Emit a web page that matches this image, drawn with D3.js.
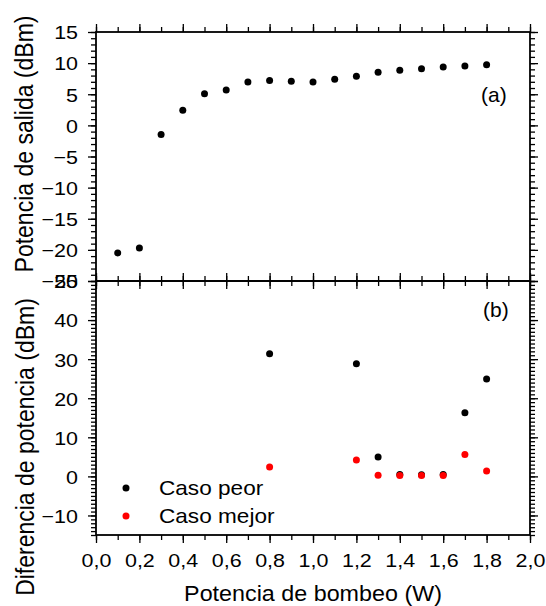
<!DOCTYPE html>
<html><head><meta charset="utf-8">
<script src="https://cdn.jsdelivr.net/npm/d3@7"></script>
<style>
body{margin:0;background:#fff}
svg{display:block}
text{font-family:"Liberation Sans",Arial,sans-serif;fill:#000}
</style>
</head><body>
<svg id="c" width="546" height="606"></svg>
<script>
// ---- data ----
const pumpA = [0.1,0.2,0.3,0.4,0.5,0.6,0.7,0.8,0.9,1.0,1.1,1.2,1.3,1.4,1.5,1.6,1.7,1.8];
const outPower = [-20.5,-19.7,-1.45,2.44,5.1,5.7,6.97,7.19,7.08,6.97,7.4,7.88,8.52,8.84,9.11,9.37,9.53,9.75];
const pumpB = [0.8,1.2,1.3,1.4,1.5,1.6,1.7,1.8];
const worstCase = [31.4,28.8,4.95,0.5,0.4,0.5,16.3,24.9];
const bestCase = [2.4,4.2,0.26,0.2,0.2,0.2,5.6,1.4];
const xTicks = [0,0.2,0.4,0.6,0.8,1.0,1.2,1.4,1.6,1.8,2.0];
const yTicksA = [15,10,5,0,-5,-10,-15,-20,-25];
const yTicksB = [50,40,30,20,10,0,-10];
const legendLabels = ["Caso peor","Caso mejor"];
const legendColors = ["#000000","#ff0000"];
const panelLabels = ["(a)","(b)"];
const xTitle = "Potencia de bombeo (W)";
const yTitleA = "Potencia de salida (dBm)";
const yTitleB = "Diferencia de potencia (dBm)";

// ---- layout ----
const L=96, R=530, T=32, M=281, B=535;
const SX = 1.13; // horizontal stretch of glyphs
const svg = d3.select("#c");

const x = d3.scaleLinear().domain([0,2]).range([L,R]);
const yA = d3.scaleLinear().domain([-25,15]).range([M,T]);
const yB = d3.scaleLinear().domain([-15,50]).range([B,M]);

const fmt = d => d3.format(".1f")(d).replace(".", ",");
const xMinor = d3.range(0,2.001,0.1).map(v=>+v.toFixed(1));
const yMinorA = d3.range(-25,15.001,1);
const yMinorB = d3.range(-15,50.001,1);

const MAJ=8, MIN=5;

function ticks(axisGen, g) {
  g.call(axisGen);
  g.select(".domain").remove();
  g.selectAll("line").attr("stroke","#000").attr("stroke-width",1.3);
}

function sideAxes(maker, scale, minor, major, transform, labels, fmtFn){
  const gmin = svg.append("g").attr("transform",transform);
  ticks(maker(scale).tickValues(minor).tickSize(MIN).tickFormat(""), gmin);
  const gmaj = svg.append("g").attr("transform",transform);
  ticks(maker(scale).tickValues(major).tickSize(MAJ).tickFormat(labels?fmtFn:""), gmaj);
  return gmaj;
}

// top panel
const gLA = sideAxes(d3.axisLeft, yA, yMinorA, yTicksA, `translate(${L},0)`, true, d=>d3.format("d")(d));
sideAxes(d3.axisRight, yA, yMinorA, yTicksA, `translate(${R},0)`, false);
sideAxes(d3.axisTop, x, xMinor, xTicks, `translate(0,${T})`, false);
sideAxes(d3.axisBottom, x, xMinor, xTicks, `translate(0,${M})`, false);
// bottom panel
const gLB = sideAxes(d3.axisLeft, yB, yMinorB, yTicksB, `translate(${L},0)`, true, d=>d3.format("d")(d));
sideAxes(d3.axisRight, yB, yMinorB, yTicksB, `translate(${R},0)`, false);
sideAxes(d3.axisTop, x, xMinor, xTicks, `translate(0,${M})`, false);
const gX = sideAxes(d3.axisBottom, x, xMinor, xTicks, `translate(0,${B})`, true, fmt);

// style tick labels
[gLA, gLB].forEach(g=>{
  g.selectAll("text").attr("font-size",19).attr("font-family",null)
    .attr("x", -18/SX).attr("dy","0.36em")
    .attr("transform",`scale(${SX},1)`);
});
gX.selectAll("text").attr("font-size",19).attr("font-family",null)
  .attr("y", 18.5).attr("dy","0.71em")
  .attr("transform",`scale(${SX},1)`);

// frames
const frame = svg.append("g").attr("fill","none").attr("stroke","#000").attr("stroke-width",1.8);
frame.append("rect").attr("x",L).attr("y",T).attr("width",R-L).attr("height",M-T);
frame.append("rect").attr("x",L).attr("y",M).attr("width",R-L).attr("height",B-M);

// data points
const r = 3.5;
svg.append("g").selectAll("circle").data(pumpA.map((p,i)=>[p,outPower[i]])).join("circle")
  .attr("cx",d=>x(d[0])).attr("cy",d=>yA(d[1])).attr("r",r).attr("fill",legendColors[0]);
svg.append("g").selectAll("circle").data(pumpB.map((p,i)=>[p,worstCase[i]])).join("circle")
  .attr("cx",d=>x(d[0])).attr("cy",d=>yB(d[1])).attr("r",r).attr("fill",legendColors[0]);
svg.append("g").selectAll("circle").data(pumpB.map((p,i)=>[p,bestCase[i]])).join("circle")
  .attr("cx",d=>x(d[0])).attr("cy",d=>yB(d[1])).attr("r",r).attr("fill",legendColors[1]);

// legend
const leg = svg.append("g");
legendLabels.forEach((lab,i)=>{
  const cy = 488 + i*28;
  leg.append("circle").attr("cx",126).attr("cy",cy).attr("r",r).attr("fill",legendColors[i]);
  leg.append("text").attr("transform",`translate(159,${cy+7}) scale(${SX},1)`)
    .attr("font-size",20).text(lab);
});

// panel labels
svg.append("text").attr("transform",`translate(481,102) scale(1.05,1)`).attr("font-size",20).text(panelLabels[0]);
svg.append("text").attr("transform",`translate(483,317) scale(1.05,1)`).attr("font-size",20).text(panelLabels[1]);

// axis titles
svg.append("text").attr("transform",`translate(313,601) scale(1.06,1)`)
  .attr("text-anchor","middle").attr("font-size",22).text(xTitle);
svg.append("text").attr("transform",`translate(33,144) rotate(-90) scale(1,${SX})`)
  .attr("text-anchor","middle").attr("font-size",23).text(yTitleA);
svg.append("text").attr("transform",`translate(34,447) rotate(-90) scale(1,${SX})`)
  .attr("text-anchor","middle").attr("font-size",23).text(yTitleB);
</script>
</body></html>
